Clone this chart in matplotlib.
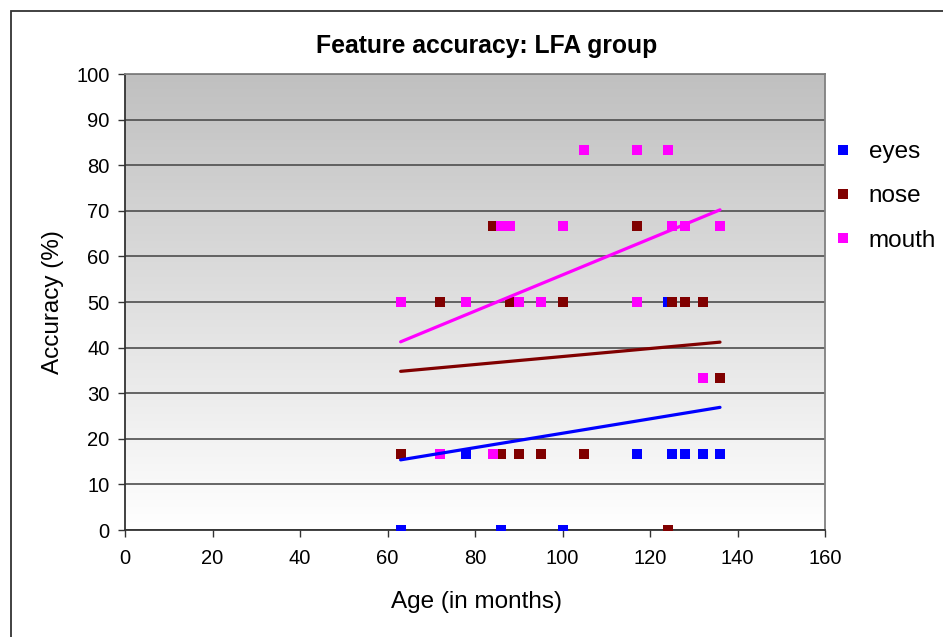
import numpy as np
import matplotlib
matplotlib.use("Agg")
import matplotlib.pyplot as plt
from matplotlib.patches import Rectangle

plt.rcParams["font.family"] = ["Liberation Sans", "DejaVu Sans"]

# age of each child (months) and feature accuracy (%)
ages = [63, 72, 78, 84, 86, 88, 90, 95, 100, 105, 117, 117, 124, 125, 128, 132, 136]
eyes = [0, 16.7, 16.7, 16.7, 0, 50, 50, 16.7, 0, 16.7, 16.7, 50, 50, 16.7, 16.7, 16.7, 16.7]
nose = [16.7, 50, 50, 66.7, 16.7, 50, 16.7, 16.7, 50, 16.7, 66.7, 50, 0, 50, 50, 50, 33.3]
mouth = [50, 16.7, 50, 16.7, 66.7, 66.7, 50, 50, 66.7, 83.3, 83.3, 50, 83.3, 66.7, 66.7, 33.3, 66.7]

series_names = ["eyes", "nose", "mouth"]
series_colors = ["#0000FF", "#800000", "#FF00FF"]

W, H = 943, 637
fig = plt.figure(figsize=(W / 100, H / 100), dpi=100)
ax = fig.add_axes([125 / W, 1 - 530 / H, 700 / W, 456 / H])

# grey-to-white gradient background
grad = np.linspace(1.0, 0.0, 256).reshape(-1, 1)
ax.imshow(grad, extent=[0, 1, 0, 1], transform=ax.transAxes, aspect="auto",
          cmap=matplotlib.colors.LinearSegmentedColormap.from_list("g", ["#FFFFFF", "#C0C0C0"]),
          zorder=0)

ax.set_xlim(0, 160)
ax.set_ylim(0, 100)
ax.set_xticks(np.arange(0, 161, 20))
ax.set_yticks(np.arange(0, 101, 10))
ax.tick_params(labelsize=14.5, length=5, width=1, color="#333333")
ax.tick_params(axis="x", pad=9)
ax.tick_params(axis="y", pad=6)
ax.yaxis.grid(True, color="#4d4d4d", linewidth=1.2, zorder=1)
ax.set_axisbelow(True)
for side in ["left", "bottom"]:
    ax.spines[side].set_color("#333333")
    ax.spines[side].set_linewidth(1.3)
for side in ["top", "right"]:
    ax.spines[side].set_color("#808080")
    ax.spines[side].set_linewidth(1.3)

handles = []
for name, vals, col in zip(series_names, [eyes, nose, mouth], series_colors):
    h, = ax.plot(ages, vals, linestyle="none", marker="s", markersize=7.8,
                 markeredgewidth=0, color=col, label=name, zorder=3)
    handles.append(h)

# linear trendlines over the range of ages
x = np.array(ages, dtype=float)
for vals, col in zip([eyes, nose, mouth], series_colors):
    k, b = np.polyfit(x, np.array(vals), 1)
    xs = np.array([x.min(), x.max()])
    ax.plot(xs, k * xs + b, color=col, linewidth=2.3, zorder=4,
            solid_capstyle="round")

fig.text(487 / W, 1 - 46 / H, "Feature accuracy: LFA group", ha="center",
         va="center", fontsize=17.8, fontweight="bold")
fig.text(476 / W, 1 - 602 / H, "Age (in months)", ha="center", va="center",
         fontsize=17.5)
fig.text(53 / W, 1 - 302 / H, "Accuracy (%)", ha="center", va="center",
         fontsize=17.5, rotation=90)

fig.legend(handles=handles, loc="upper left", bbox_to_anchor=(836 / W, 1 - 141 / H),
           frameon=False, fontsize=17.5, handlelength=0.55, handletextpad=0.8,
           labelspacing=0.92, borderaxespad=0, borderpad=0, markerscale=0.9)

fig.patches.append(Rectangle((11 / W, -0.1), 1.2, 1.1 - 11 / H, transform=fig.transFigure,
                             fill=False, edgecolor="#333333", linewidth=1.3))

fig.savefig("out.png", dpi=100)
